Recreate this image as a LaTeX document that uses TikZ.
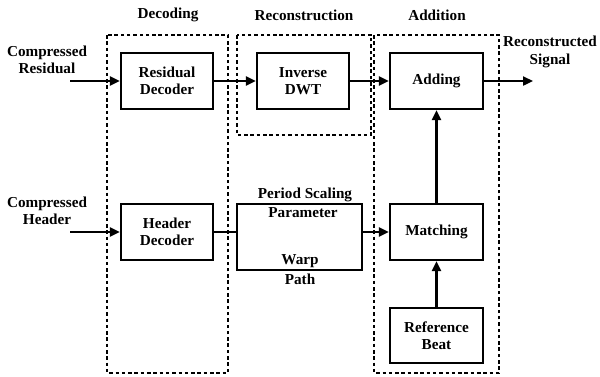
\documentclass[tikz,border=0pt]{standalone}
\usepackage{fontspec}
\setmainfont{Liberation Serif}
\usetikzlibrary{arrows.meta}
\begin{document}
\begin{tikzpicture}[x=1pt,y=-1pt,
  blk/.style={draw,line width=2.3pt,inner sep=0pt},
  grp/.style={draw,line width=2.5pt,dash pattern=on 3.5pt off 2.8pt},
  lbl/.style={font=\fontsize{15.2}{17.5}\selectfont\bfseries,align=center,inner sep=0pt},
  arr/.style={line width=2.3pt,-{Triangle[length=10pt,width=9pt]}},
  ln/.style={line width=2.3pt}]
\useasboundingbox (0,0) rectangle (600,376);
% group boxes
\draw[grp] (107,35) rectangle (228,373);
\draw[grp] (237,35) rectangle (371,135);
\draw[grp] (374,35) rectangle (499,373);
% group titles
\node[lbl] (t1) at (168,15) {Decoding};
\node[lbl] (t2) at (304,15) {Reconstruction};
\node[lbl] (t3) at (437,15) {Addition};
% blocks
\node[blk,minimum width=92pt,minimum height=56pt] (rd) at (167,81) {};
\node[lbl] at (rd) {Residual\\Decoder};
\node[blk,minimum width=92pt,minimum height=56pt] (idwt) at (303,81) {};
\node[lbl] at (idwt) {Inverse\\DWT};
\node[blk,minimum width=93pt,minimum height=56pt] (add) at (436.5,81) {};
\node[lbl] at (add) {Adding};
\node[blk,minimum width=92pt,minimum height=56pt] (hd) at (167,232) {};
\node[lbl] at (hd) {Header\\Decoder};
\node[blk,minimum width=125pt,minimum height=66pt] (ps) at (299.5,237) {};
\node[lbl] (ps1) at (305,195) {Period Scaling};
\node[lbl] (ps2) at (303,213) {Parameter};
\node[lbl] (ps3) at (300,261) {Warp};
\node[lbl] (ps4) at (300,279) {Path};
\node[blk,minimum width=93pt,minimum height=56pt] (mt) at (436.5,232) {};
\node[lbl] at (mt) {Matching};
\node[blk,minimum width=93pt,minimum height=55pt] (rb) at (436.5,335.5) {};
\node[lbl] at (rb) {Reference\\Beat};
% inputs / outputs
\node[lbl] (in1) at (47,60) {Compressed\\Residual};
\node[lbl] (in2) at (47,211) {Compressed\\Header};
\node[lbl] (out) at (550,52) {Reconstructed\\Signal};
\coordinate (s1) at (70,81);
\coordinate (s2) at (70,232);
\coordinate (e1) at (533,81);
% connectors
\draw[arr] (s1) -- (rd.west);
\draw[arr] (rd.east) -- (idwt.west);
\draw[arr] (idwt.east) -- (add.west);
\draw[arr] (add.east) -- (e1);
\draw[arr] (s2) -- (hd.west);
\draw[ln] (hd.east) -- (ps.west |- hd.east);
\draw[arr] (ps.east |- mt.west) -- (mt.west);
\draw[arr] (mt.north) -- (add.south);
\draw[arr] (rb.north) -- (mt.south);
\end{tikzpicture}
\end{document}
